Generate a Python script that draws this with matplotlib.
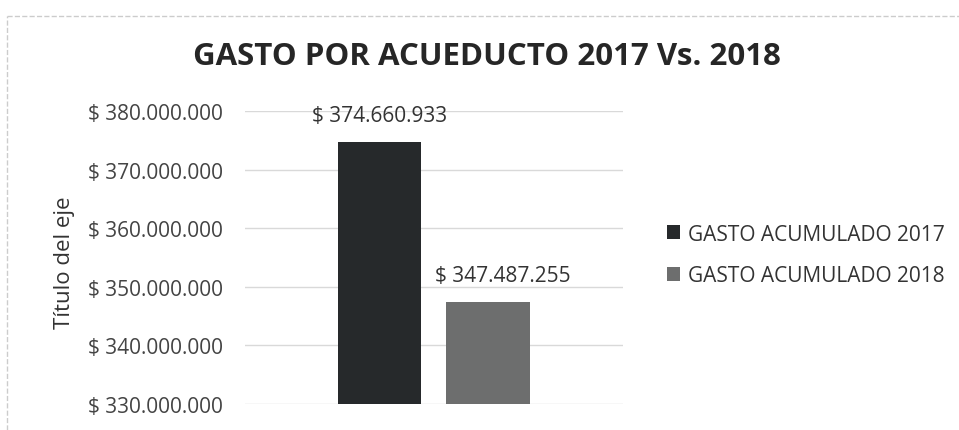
import matplotlib.pyplot as plt
from matplotlib.lines import Line2D

# valores del grafico
series = ["GASTO ACUMULADO 2017", "GASTO ACUMULADO 2018"]
gasto = [374660933, 347487255]
colores = ["#26292b", "#6d6e6e"]
y_ticks = [330000000, 340000000, 350000000, 360000000, 370000000, 380000000]


def pesos(v):
    return "$ " + f"{v:,.0f}".replace(",", ".")


plt.rcParams["font.family"] = ["Open Sans", "DejaVu Sans"]

fig = plt.figure(figsize=(9.59, 4.31), dpi=100)
fig.patch.set_facecolor("white")
ax = fig.add_axes([0.2555, 0.0603, 0.394, 0.680])

pos = [-0.143, 0.143]
desplaz = [0, 11]  # la etiqueta de 2018 esta corrida un poco a la derecha
for p, v, c, s, dx in zip(pos, gasto, colores, series, desplaz):
    ax.bar(p, v - y_ticks[0], bottom=y_ticks[0], width=0.22, color=c, label=s, zorder=3)
    ax.annotate(pesos(v), (p, v), xytext=(dx, 19), textcoords="offset points",
                ha="center", va="center", fontsize=15, color="#333333")

ax.set_ylim(y_ticks[0], y_ticks[-1])
ax.set_xlim(-0.5, 0.5)
ax.set_yticks(y_ticks)
ax.set_yticklabels([pesos(t) for t in y_ticks], fontsize=15, color="#444444")
ax.set_xticks([])
ax.tick_params(axis="y", length=0, pad=16)
ax.grid(axis="y", color="#d9d9d9", linewidth=1, zorder=0)
for sp in ax.spines.values():
    sp.set_visible(False)

ax.set_ylabel("Título del eje", fontsize=16, color="#333333")
ax.yaxis.set_label_coords(-0.45, 0.485)

fig.text(0.508, 0.868, "GASTO POR ACUEDUCTO 2017 Vs. 2018", ha="center", va="center",
         fontsize=22.5, fontweight="bold", color="#262626")

fig.legend(loc="center left", bbox_to_anchor=(0.695, 0.406), frameon=False,
           fontsize=15, handlelength=0.67, handleheight=0.67, handletextpad=0.35,
           labelspacing=1.0, borderpad=0, borderaxespad=0, labelcolor="#333333")

# borde del area del grafico
fig.add_artist(Line2D([0.007, 1.0], [0.96, 0.96], color="#cccccc", lw=1, linestyle="--"))
fig.add_artist(Line2D([0.007, 0.007], [0.0, 0.96], color="#cccccc", lw=1, linestyle="--"))

fig.savefig("out.png", dpi=100)
